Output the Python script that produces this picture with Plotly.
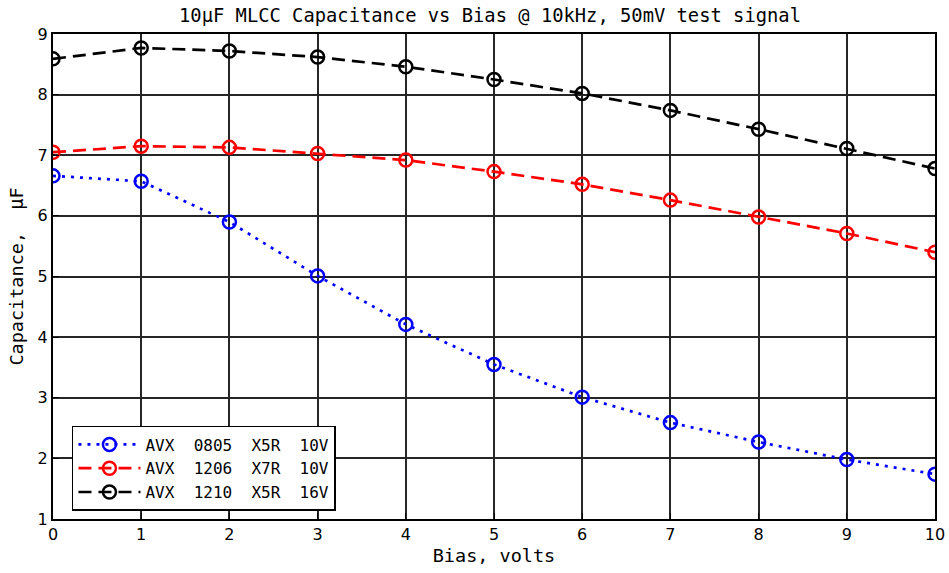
import plotly.graph_objects as go

bias = [0, 1, 2, 3, 4, 5, 6, 7, 8, 9, 10]
cap_0805 = [6.66, 6.57, 5.90, 5.01, 4.21, 3.55, 3.01, 2.59, 2.27, 1.98, 1.74]
cap_1206 = [7.05, 7.15, 7.13, 7.03, 6.92, 6.73, 6.52, 6.26, 5.98, 5.71, 5.40]
cap_1210 = [8.59, 8.77, 8.72, 8.62, 8.46, 8.25, 8.02, 7.74, 7.43, 7.11, 6.78]
names = ["AVX\u00a0\u00a00805\u00a0\u00a0X5R\u00a0\u00a010V",
         "AVX\u00a0\u00a01206\u00a0\u00a0X7R\u00a0\u00a010V",
         "AVX\u00a0\u00a01210\u00a0\u00a0X5R\u00a0\u00a016V"]
colors = ["#0000ff", "#ff0000", "#000000"]
dashes = ["3px,6px", "13px,7px", "13px,7px"]

mono = "DejaVu Sans Mono"
fig = go.Figure()
for y, n, c, d in zip([cap_0805, cap_1206, cap_1210], names, colors, dashes):
    fig.add_trace(go.Scatter(
        x=bias, y=y, name=n, mode="lines+markers",
        line=dict(color=c, width=2.7, dash=d),
        marker=dict(symbol="circle-open", size=13, color=c, line=dict(width=2.5, color=c)),
    ))

fig.update_layout(
    width=949, height=573,
    margin=dict(l=53, r=14, t=34, b=54),
    paper_bgcolor="white", plot_bgcolor="white",
    title=dict(text="10\u03bcF MLCC Capacitance vs Bias @ 10kHz, 50mV test signal",
               x=(180 + 800) / 2 / 949, xanchor="center", y=1 - 15 / 573, yanchor="middle",
               font=dict(family=mono, size=18.8, color="black"), automargin=False),
    legend=dict(x=0.0215, y=0.0165, xanchor="left", yanchor="bottom",
                bgcolor="white", bordercolor="black", borderwidth=1.5,
                font=dict(family=mono, size=16, color="black"),
                itemwidth=62, tracegroupgap=0),
    font=dict(family="DejaVu Sans", size=15, color="black"),
)
fig.update_xaxes(range=[0, 10], dtick=1, showgrid=True, gridcolor="#262626", gridwidth=1.5,
                 showline=True, linecolor="black", linewidth=2, mirror=True, zeroline=False,
                 ticks="inside", ticklen=6, tickcolor="black", automargin=False,
                 title=dict(text="Bias, volts", font=dict(family=mono, size=18.5), standoff=6),
                 tickfont=dict(family="DejaVu Sans", size=16))
fig.update_yaxes(range=[1, 9], dtick=1, showgrid=True, gridcolor="#262626", gridwidth=1.5,
                 showline=True, linecolor="black", linewidth=2, mirror=True, zeroline=False,
                 ticks="inside", ticklen=6, tickcolor="black", automargin=False,
                 title=dict(text="Capacitance,\u00a0\u00a0\u03bcF", font=dict(family=mono, size=18.5), standoff=9),
                 tickfont=dict(family="DejaVu Sans", size=16))

fig.write_html("out.html")
